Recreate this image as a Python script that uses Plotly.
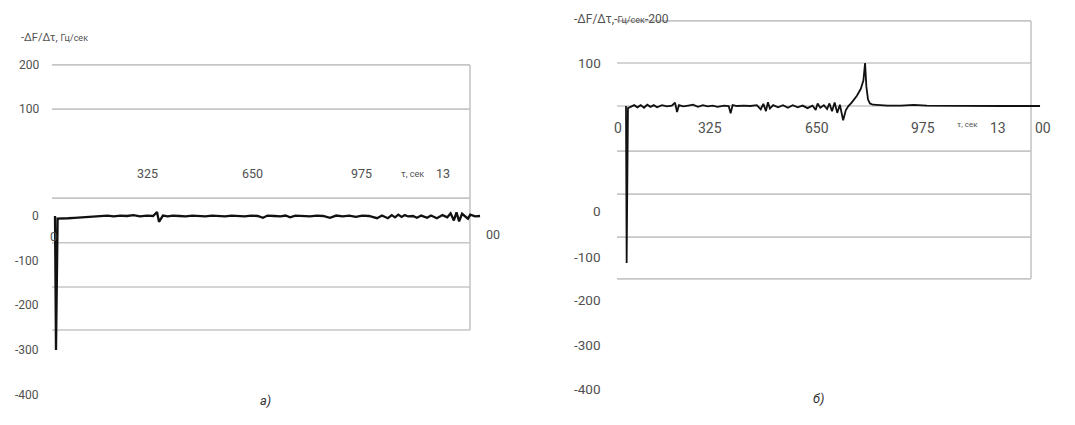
import plotly.graph_objects as go

W, H = 1075, 425

# ---------------- data: panel a) ----------------
time_a = [0, 3, 8, 20, 40, 60, 80, 100, 120, 140, 160, 180, 200, 220, 240, 260, 280, 300,
          312, 318, 324, 330, 345, 360, 380, 400, 420, 440, 460, 480, 500, 520, 540, 560,
          580, 600, 620, 636, 650, 670, 690, 705, 719, 735, 760, 780, 800, 820, 841, 860,
          880, 900, 920, 940, 960, 975, 985, 1000, 1018, 1030, 1040, 1050, 1060, 1070, 1080,
          1095, 1107, 1120, 1138, 1150, 1168, 1185, 1200, 1210, 1220, 1228, 1236, 1245, 1255,
          1263, 1270, 1285, 1300]
rate_a = [0, -300, -6, -6, -5, -4, -3, -2, -1, 0, 1, -1, 1, 0, 2, -1, 1, 0,
          9, -13, -6, 1, -1, 1, 0, -1, 1, 0, -1, 1, 0, -1, 1, 0,
          -1, 1, 0, -4, 1, 0, -1, 1, -3, 1, 0, -1, 1, 0, -4, 1,
          -1, 1, -2, 1, 0, -2, -5, 1, -5, 2, -3, 3, -2, 2, -1,
          0, -4, 1, -4, 1, -5, 2, -3, 6, -10, 8, -12, 5, -2,
          -6, 3, -1, 0]

# ---------------- data: panel б) ----------------
time_b = [0, 2, 6, 15, 25, 35, 45, 55, 65, 75, 85, 95, 110, 125, 140, 150, 156, 162, 175,
          190, 205, 220, 235, 250, 265, 280, 300, 314, 320, 326, 340, 360, 380, 400, 412,
          420, 428, 434, 440, 450, 465, 480, 495, 510, 525, 540, 555, 570, 580, 586, 594,
          605, 615, 622, 630, 638, 646, 654, 664, 672, 680, 690, 706, 718, 726, 731, 735,
          740, 746, 755, 775, 800, 840, 880, 920, 980, 1050, 1150, 1266]
rate_b = [0, -365, -5, -2, 2, -3, 2, -4, 3, -2, 2, -3, 2, -1, 1, 8, -14, 2, -1,
          1, 3, -2, 2, -1, 1, -2, 1, 0, -17, 2, 0, 1, 0, 2, -8,
          5, -12, 9, -6, 2, -3, 2, -4, 2, -3, 1, -5, 1, -9, 6, -4,
          2, -7, 6, -12, 8, -16, 3, -33, -10, 0, 8, 24, 40, 60, 100, 45,
          15, 6, 3, 2, 1, 1, 2.5, 1, 0.5, 0, 0, 0]

# grid line levels (in the data units of each panel) and printed labels
grid_a = [338, 239, 40, -60, -159, -255]
grid_b = [198, 100, 0, -105, -205, -305, -402]
ylab_a_text = ["200", "100", "0", "-100", "-200", "-300", "-400"]
ylab_a_pos = [338, 239, 0, -100, -200, -300, -400]
ylab_b_text = ["100", "0", "-100", "-200", "-300", "-400"]
ylab_b_pos = [100, -244, -351, -451, -556, -658]
xlab_a_text = ["325", "650", "975", "13"]
xlab_a_pos = [284, 605, 936, 1187]
xlab_b_text = ["0", "325", "650", "975", "13"]
xlab_b_pos = [-24, 257, 584, 908, 1138]

GRID = "#c6c6c6"
TXT = "#505050"
FONT = "Roboto"

fig = go.Figure()
fig.add_trace(go.Scatter(x=time_a, y=rate_a, mode="lines",
                         line=dict(color="#111111", width=2.3),
                         xaxis="x", yaxis="y", showlegend=False))
fig.add_trace(go.Scatter(x=time_b, y=rate_b, mode="lines",
                         line=dict(color="#111111", width=1.8),
                         xaxis="x2", yaxis="y2", showlegend=False))

def px_x(p):
    return p / W

def px_y(p):
    return 1 - p / H

axis_common = dict(showgrid=False, zeroline=False, showticklabels=False,
                   showline=False, ticks="")
fig.update_layout(
    width=W, height=H,
    margin=dict(l=0, r=0, t=0, b=0),
    paper_bgcolor="white", plot_bgcolor="rgba(0,0,0,0)",
    font=dict(family=FONT, color=TXT),
    xaxis=dict(domain=[px_x(52), px_x(482)], range=[-9.2, 1306], anchor="y", **axis_common),
    yaxis=dict(domain=[px_y(410), px_y(40)], range=[-434, 393.7], anchor="x", **axis_common),
    xaxis2=dict(domain=[px_x(617), px_x(1042)], range=[-27.5, 1272], anchor="y2", **axis_common),
    yaxis2=dict(domain=[px_y(410), px_y(10)], range=[-707, 223.3], anchor="x2", **axis_common),
)

shapes = []
for g in grid_a:
    shapes.append(dict(type="line", xref="paper", yref="y", x0=px_x(52), x1=px_x(470),
                       y0=g, y1=g, line=dict(color=GRID, width=1.6), layer="below"))
shapes.append(dict(type="line", xref="paper", yref="y", x0=px_x(470), x1=px_x(470),
                   y0=grid_a[0], y1=grid_a[-1], line=dict(color=GRID, width=1.6), layer="below"))
for g in grid_b:
    shapes.append(dict(type="line", xref="paper", yref="y2", x0=px_x(617), x1=px_x(1031),
                       y0=g, y1=g, line=dict(color=GRID, width=1.6), layer="below"))
shapes.append(dict(type="line", xref="paper", yref="y2", x0=px_x(1031), x1=px_x(1031),
                   y0=grid_b[0], y1=grid_b[-1], line=dict(color=GRID, width=1.6), layer="below"))
fig.update_layout(shapes=shapes)

ann = []
for t, v in zip(ylab_a_text, ylab_a_pos):
    ann.append(dict(text=t, xref="paper", yref="y", x=px_x(41), y=v, xanchor="right",
                    yanchor="middle", showarrow=False, font=dict(size=12, color=TXT)))
for t, v in zip(ylab_b_text, ylab_b_pos):
    ann.append(dict(text=t, xref="paper", yref="y2", x=px_x(603), y=v, xanchor="right",
                    yanchor="middle", showarrow=False, font=dict(size=13.5, color=TXT)))
for t, v in zip(xlab_a_text, xlab_a_pos):
    ann.append(dict(text=t, xref="x", yref="y", x=v, y=96, xanchor="center",
                    yanchor="middle", showarrow=False, font=dict(size=12.5, color=TXT)))
ann.append(dict(text="τ, сек", xref="x", yref="y", x=1092, y=93, showarrow=False,
                font=dict(size=9, color=TXT)))
ann.append(dict(text="0", xref="x", yref="y", x=-6, y=-45, showarrow=False,
                font=dict(size=12.5, color=TXT)))
ann.append(dict(text="00", xref="paper", yref="y", x=px_x(493), y=-42, showarrow=False,
                font=dict(size=12.5, color=TXT)))
for t, v in zip(xlab_b_text, xlab_b_pos):
    ann.append(dict(text=t, xref="x2", yref="y2", x=v, y=-51, xanchor="center",
                    yanchor="middle", showarrow=False, font=dict(size=14, color=TXT)))
ann.append(dict(text="00", xref="paper", yref="y2", x=px_x(1053), y=-51, showarrow=False,
                font=dict(size=14, color=TXT)))
ann.append(dict(text="τ, сек", xref="x2", yref="y2", x=1043, y=-44, showarrow=False,
                font=dict(size=8, color=TXT)))
ann.append(dict(text="-ΔF/Δτ, <span style='font-size:9px'>Гц/сек</span>", xref="paper", yref="paper",
                x=px_x(19), y=px_y(38), xanchor="left", yanchor="middle", showarrow=False,
                font=dict(size=11, color=TXT)))
ann.append(dict(text="-ΔF/Δτ,-<span style='font-size:9px'>Гц/сек</span>-200", xref="paper", yref="paper",
                x=px_x(572), y=px_y(19), xanchor="left", yanchor="middle", showarrow=False,
                font=dict(size=12, color=TXT)))
ann.append(dict(text="<i>а)</i>", xref="paper", yref="paper", x=px_x(258), y=px_y(410),
                showarrow=False, font=dict(size=13, color="#333333")))
ann.append(dict(text="<i>б)</i>", xref="paper", yref="paper", x=px_x(826), y=px_y(408),
                showarrow=False, font=dict(size=13, color="#333333")))
fig.update_layout(annotations=ann)

fig.write_html("out.html", config={"displayModeBar": False},
               post_script="document.body.style.margin='0';document.body.style.overflow='hidden';")
